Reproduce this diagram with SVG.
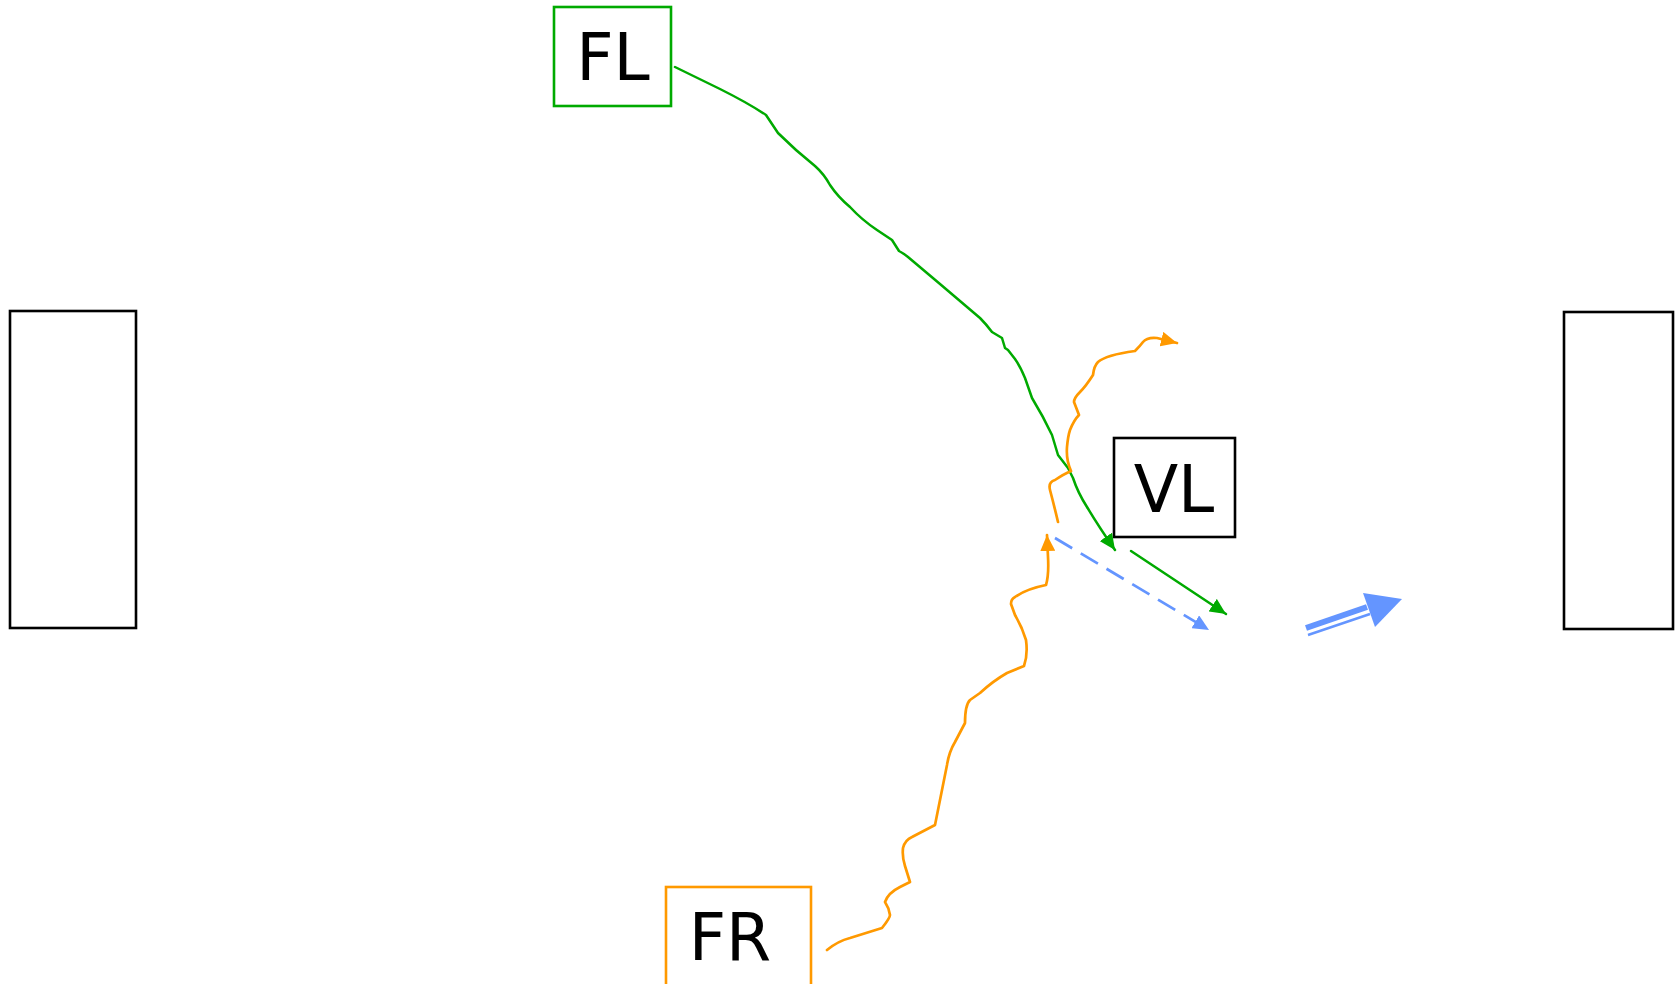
<svg xmlns="http://www.w3.org/2000/svg" width="1680" height="984" viewBox="0 0 1680 984">
<style>
.box{fill:#fff;stroke-width:2.6}
.lbl{font-family:"DejaVu Sans",sans-serif;font-size:65px;fill:#000;text-anchor:middle}
.g{fill:none;stroke:#00aa00;stroke-width:2.5;stroke-linejoin:round;stroke-linecap:round}
.o{fill:none;stroke:#ff9900;stroke-width:2.7;stroke-linejoin:round;stroke-linecap:round}
.b{fill:none;stroke:#6495ff;stroke-width:2.7;stroke-dasharray:20 10}
</style>
<defs>
<marker id="ag" markerUnits="userSpaceOnUse" markerWidth="17" markerHeight="15" refX="16" refY="7.5" orient="auto"><path d="M0,0 L16,7.5 L0,15 z" fill="#00aa00"/></marker>
<marker id="ao" markerUnits="userSpaceOnUse" markerWidth="17" markerHeight="15" refX="16" refY="7.5" orient="auto"><path d="M0,0 L16,7.5 L0,15 z" fill="#ff9900"/></marker>
<marker id="ab" markerUnits="userSpaceOnUse" markerWidth="17" markerHeight="15" refX="16" refY="7.5" orient="auto"><path d="M0,0 L16,7.5 L0,15 z" fill="#6495ff"/></marker>
</defs>
<g id="left-block"><rect class="box" x="10" y="311" width="126" height="317" stroke="#000"/></g>
<g id="right-block"><rect class="box" x="1564" y="312" width="109" height="317" stroke="#000"/></g>
<g id="FL"><rect class="box" x="554" y="7" width="117" height="99" stroke="#00aa00"/><text class="lbl" x="613" y="80">FL</text></g>
<g id="VL"><rect class="box" x="1114" y="438" width="121" height="99" stroke="#000"/><text class="lbl" x="1174" y="512">VL</text></g>
<g id="FR"><rect class="box" x="666" y="887" width="145" height="110" stroke="#ff9900"/><text class="lbl" x="730" y="960">FR</text></g>
<g id="connectors">
<path class="g" marker-end="url(#ag)" d="M675,67 L720,89 Q748,103 766,115 L778,133 Q795,150 815,166 Q824,174 830,185 Q838,197 850,207 Q862,220 877,230 L892,240 L899,251 Q903,253 908,257 L940,284 L980,318 Q986,324 992,332 L1002,338 L1005,348 L1008,350 L1015,359 Q1020,366 1025,378 L1032,398 Q1043,416 1052,435 L1058,455 L1068,468 Q1072,476 1073,478 Q1078,493 1087,507 Q1099,527 1115,550"/>
<path class="g" marker-end="url(#ag)" d="M1131,551 L1226,614"/>
<path class="b" marker-end="url(#ab)" d="M1055,538 L1209,630"/>
<path class="o" marker-end="url(#ao)" d="M1058,522 Q1054,505 1050,490 Q1048,482 1055,480 Q1064,474 1071,471 Q1066,460 1067,447 Q1068,436 1070,430 Q1074,420 1079,415 L1074,402 Q1074,398 1080,392 Q1086,386 1093,375 Q1094,366 1098,362 Q1106,355 1135,351 Q1140,346 1143,342 Q1147,337 1157,338 L1177,343"/>
<path class="o" marker-end="url(#ao)" d="M827,950 Q838,941 850,938 L882,928 Q890,918 890,915 Q889,908 885,902 Q888,893 900,887 L910,882 L905,866 Q902,857 903,848 Q905,840 912,837 L935,825 L947,765 Q949,752 955,742 L965,723 Q965,705 970,700 L980,693 Q993,681 1007,673 L1024,666 Q1028,655 1026,640 Q1022,627 1015,615 L1011,604 Q1011,599 1015,597 Q1026,589 1046,585 Q1049,575 1048,557 L1047,535"/>
<path d="M1306,628 L1367,607" fill="none" stroke="#6495ff" stroke-width="6"/>
<path d="M1308,635 L1370,614" fill="none" stroke="#6495ff" stroke-width="2.5"/>
<path d="M1363,593 L1402,599 L1375,627 z" fill="#6495ff"/>
</g>
</svg>
